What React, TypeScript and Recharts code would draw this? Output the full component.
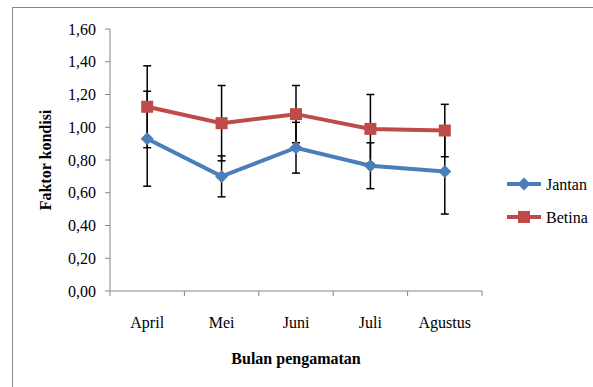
import React from 'react';
import { LineChart, Line, XAxis, YAxis, ErrorBar } from 'recharts';

// Bulan pengamatan
const months = ['April', 'Mei', 'Juni', 'Juli', 'Agustus'];
// Faktor kondisi (rata-rata) dan simpangan baku
const jantan = [0.93, 0.7, 0.875, 0.765, 0.73];
const jantanSd = [0.29, 0.125, 0.155, 0.14, 0.26];
const betina = [1.125, 1.025, 1.08, 0.99, 0.98];
const betinaSd = [0.25, 0.23, 0.175, 0.21, 0.16];
const yTicks = [0, 0.2, 0.4, 0.6, 0.8, 1.0, 1.2, 1.4, 1.6];

const data = months.map((month, i) => ({
  month,
  jantan: jantan[i],
  jantanSd: jantanSd[i],
  betina: betina[i],
  betinaSd: betinaSd[i],
}));

const BLUE = '#4A7EBB';
const RED = '#BE4B48';
const AXIS = '#868686';
const FONT = "'Liberation Serif', 'Times New Roman', serif";

const W = 593;
const H = 387;
const X_H = 30;
const margin = { top: 29, right: 111, bottom: 96 - X_H, left: 0 };
const Y_W = 110;
const plotW = W - margin.right - margin.left - Y_W;
const half = plotW / months.length / 2;

const fmt = (v: number) => v.toFixed(2).replace('.', ',');

const XTick = (props: any) => {
  const { x, y, payload, index } = props;
  return (
    <g>
      <line x1={x - half} x2={x - half} y1={y} y2={y + 5} stroke={AXIS} />
      {index === months.length - 1 && (
        <line x1={x + half} x2={x + half} y1={y} y2={y + 5} stroke={AXIS} />
      )}
      <text x={x} y={y + 37} textAnchor="middle" fontSize={16} fill="#000" fontFamily={FONT}>
        {payload.value}
      </text>
    </g>
  );
};

const Diamond = (props: any) => {
  const { cx, cy } = props;
  const r = 6.5;
  return <path d={`M${cx},${cy - r}L${cx + r},${cy}L${cx},${cy + r}L${cx - r},${cy}Z`} fill={BLUE} />;
};

const Square = (props: any) => {
  const { cx, cy } = props;
  return <rect x={cx - 6} y={cy - 6} width={12} height={12} fill={RED} />;
};

const LegendRow = ({ color, label, square }: { color: string; label: string; square?: boolean }) => (
  <svg width={90} height={33} style={{ display: 'block' }}>
    <line x1={1} x2={35} y1={16} y2={16} stroke={color} strokeWidth={4} />
    {square ? (
      <rect x={12} y={10} width={12} height={12} fill={color} />
    ) : (
      <path d="M18,9.5L24.5,16L18,22.5L11.5,16Z" fill={color} />
    )}
    <text x={40} y={21.5} fontSize={16} fontFamily={FONT} fill="#000">
      {label}
    </text>
  </svg>
);

export default function App() {
  return (
    <div style={{ position: 'fixed', left: 0, top: 0, width: W, height: H, overflow: 'hidden', background: '#fff' }}>
      <div
        style={{
          position: 'absolute',
          left: 12,
          top: 7,
          width: 600,
          height: 400,
          border: `1px solid ${AXIS}`,
        }}
      />
      <div style={{ position: 'absolute', left: 0, top: 0 }}>
        <LineChart width={W} height={H} data={data} margin={margin}>
          <XAxis
            dataKey="month"
            height={X_H}
            padding={{ left: half, right: half }}
            tickLine={false}
            tickSize={0}
            tickMargin={0}
            tick={<XTick />}
            stroke={AXIS}
            interval={0}
            label={(p: any) => {
              const vb = p.viewBox;
              return (
                <text
                  x={vb.x + vb.width / 2}
                  y={vb.y + 73}
                  textAnchor="middle"
                  fontSize={16}
                  fontWeight="bold"
                  fontFamily={FONT}
                  fill="#000"
                >
                  Bulan pengamatan
                </text>
              );
            }}
          />
          <YAxis
            width={Y_W}
            domain={[0, 1.6]}
            ticks={yTicks}
            tickFormatter={fmt}
            tickSize={5}
            tickMargin={9}
            stroke={AXIS}
            tick={{ fontSize: 16, fill: '#000', fontFamily: FONT }}
            label={(p: any) => {
              const vb = p.viewBox;
              const cx = vb.x + 45;
              const cy = vb.y + vb.height / 2;
              return (
                <text
                  x={cx}
                  y={cy}
                  transform={`rotate(-90 ${cx} ${cy})`}
                  textAnchor="middle"
                  dominantBaseline="central"
                  fontSize={16}
                  fontWeight="bold"
                  fontFamily={FONT}
                  fill="#000"
                >
                  Faktor kondisi
                </text>
              );
            }}
          />
          <Line
            dataKey="jantan"
            stroke={BLUE}
            strokeWidth={4}
            dot={<Diamond />}
            activeDot={false}
            isAnimationActive={false}
          >
            <ErrorBar dataKey="jantanSd" width={4} stroke="#000" strokeWidth={1.5} direction="y" />
          </Line>
          <Line
            dataKey="betina"
            stroke={RED}
            strokeWidth={4}
            dot={<Square />}
            activeDot={false}
            isAnimationActive={false}
          >
            <ErrorBar dataKey="betinaSd" width={4} stroke="#000" strokeWidth={1.5} direction="y" />
          </Line>
        </LineChart>
      </div>
      <div style={{ position: 'absolute', left: 506, top: 168 }}>
        <LegendRow color={BLUE} label="Jantan" />
        <LegendRow color={RED} label="Betina" square />
      </div>
    </div>
  );
}
